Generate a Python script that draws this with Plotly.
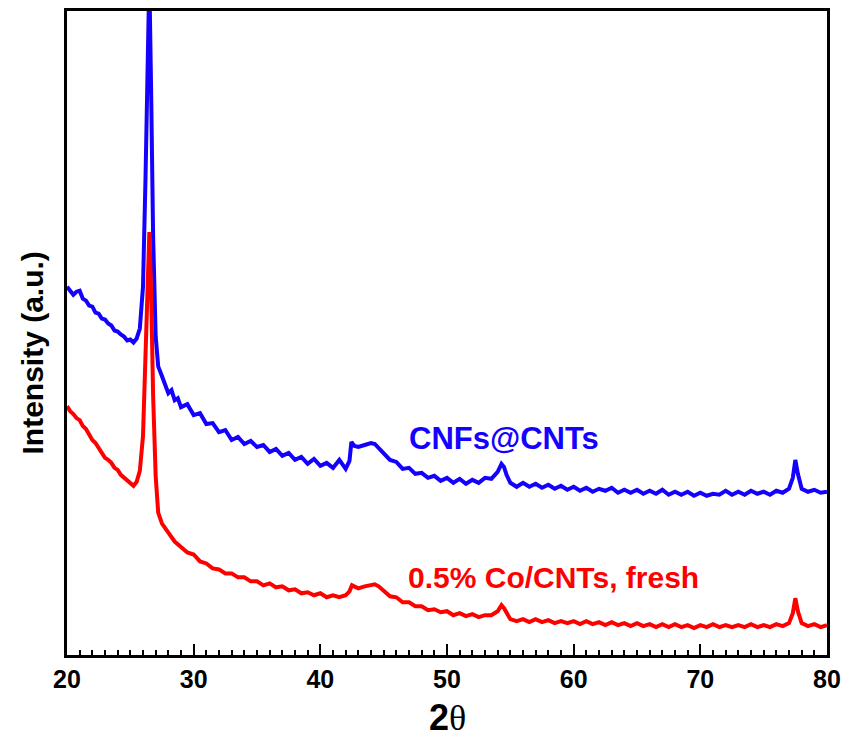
import plotly.graph_objects as go

# 2theta positions and intensities (a.u.)
theta_blue = [20.0, 20.25, 20.5, 20.75, 21.0, 21.25, 21.5, 21.75, 22.0, 22.25, 22.5, 22.75,
              23.0, 23.25, 23.5, 23.75, 24.0, 24.25, 24.5, 24.75, 25.0, 25.25, 25.5, 25.75,
              26.0, 26.2, 26.35, 26.5, 26.65, 26.8, 27.0, 27.2, 27.5, 27.75, 28.0, 28.25,
              28.5, 28.75, 29.0, 29.5, 30.0, 30.5, 31.0, 31.5, 32.0, 32.5, 33.0, 33.5, 34.0,
              34.5, 35.0, 35.5, 36.0, 36.5, 37.0, 37.5, 38.0, 38.5, 39.0, 39.5, 40.0, 40.5,
              41.0, 41.5, 42.0, 42.3, 42.45, 42.7, 43.0, 43.5, 44.0, 44.3, 44.6, 45.0, 45.5,
              46.0, 46.5, 47.0, 47.5, 48.0, 48.5, 49.0, 49.5, 50.0, 50.5, 51.0, 51.5, 52.0,
              52.5, 53.0, 53.5, 54.0, 54.3, 54.5, 54.7, 55.0, 55.5, 56.0, 56.5, 57.0, 57.5,
              58.0, 58.5, 59.0, 59.5, 60.0, 60.5, 61.0, 61.5, 62.0, 62.5, 63.0, 63.5, 64.0,
              64.5, 65.0, 65.5, 66.0, 66.5, 67.0, 67.5, 68.0, 68.5, 69.0, 69.5, 70.0, 70.5,
              71.0, 71.5, 72.0, 72.5, 73.0, 73.5, 74.0, 74.5, 75.0, 75.5, 76.0, 76.5, 77.0,
              77.3, 77.5, 77.7, 78.0, 78.5, 79.0, 79.5, 80.0]
int_blue = [370, 366, 362, 365, 366, 358, 356, 351, 350, 344, 343, 338,
            337, 333, 331, 326, 325, 322, 320, 316, 317, 314, 318, 328,
            370, 480, 600, 680, 560, 420, 320, 290, 280, 270, 263, 266,
            256, 258, 249, 252, 241, 243, 232, 233, 224, 226, 216, 219, 212,
            215, 209, 211, 204, 207, 200, 203, 196, 199, 192, 197, 190, 193,
            188, 196, 187, 195, 214, 210, 209, 211, 213, 212, 208, 203, 196,
            194, 187, 188, 182, 183, 178, 180, 175, 178, 173, 177, 172, 176,
            173, 178, 177, 184, 192, 189, 181, 173, 169, 173, 169, 172, 168,
            171, 167, 170, 166, 169, 165, 168, 164, 167, 165, 168, 163, 166,
            163, 166, 162, 165, 162, 166, 161, 164, 161, 164, 160, 163, 160,
            162, 161, 165, 161, 164, 161, 165, 162, 164, 161, 165, 163, 167,
            178, 196, 182, 167, 164, 166, 163, 164]

theta_red = [20.0, 20.25, 20.5, 20.75, 21.0, 21.25, 21.5, 21.75, 22.0, 22.25, 22.5, 22.75,
             23.0, 23.25, 23.5, 23.75, 24.0, 24.25, 24.5, 24.75, 25.0, 25.25, 25.5, 25.75,
             26.0, 26.2, 26.35, 26.5, 26.65, 26.8, 27.0, 27.2, 27.5, 27.75, 28.0, 28.5,
             29.0, 29.5, 30.0, 30.5, 31.0, 31.5, 32.0, 32.5, 33.0, 33.5, 34.0, 34.5, 35.0,
             35.5, 36.0, 36.5, 37.0, 37.5, 38.0, 38.5, 39.0, 39.5, 40.0, 40.5, 41.0, 41.5,
             42.0, 42.3, 42.5, 42.8, 43.0, 43.5, 44.0, 44.3, 44.6, 45.0, 45.5, 46.0, 46.5,
             47.0, 47.5, 48.0, 48.5, 49.0, 49.5, 50.0, 50.5, 51.0, 51.5, 52.0, 52.5, 53.0,
             53.5, 54.0, 54.3, 54.5, 54.7, 55.0, 55.5, 56.0, 56.5, 57.0, 57.5, 58.0, 58.5,
             59.0, 59.5, 60.0, 60.5, 61.0, 61.5, 62.0, 62.5, 63.0, 63.5, 64.0, 64.5, 65.0,
             65.5, 66.0, 66.5, 67.0, 67.5, 68.0, 68.5, 69.0, 69.5, 70.0, 70.5, 71.0, 71.5,
             72.0, 72.5, 73.0, 73.5, 74.0, 74.5, 75.0, 75.5, 76.0, 76.5, 77.0, 77.3, 77.5,
             77.7, 78.0, 78.5, 79.0, 79.5, 80.0]
int_red = [250, 245, 242, 238, 236, 230, 227, 222, 216, 213, 208, 204,
           198, 196, 193, 188, 186, 181, 178, 175, 173, 170, 174, 185,
           220, 300, 390, 425, 360, 260, 180, 143, 132, 128, 123, 114,
           109, 103, 101, 94, 92, 87, 86, 82, 82, 78, 78, 74, 74,
           70, 72, 68, 69, 65, 66, 62, 63, 60, 62, 58, 60, 58,
           60, 64, 70, 68, 67, 69, 70, 71, 69, 64, 59, 58, 53,
           53, 49, 49, 45, 46, 43, 44, 40, 42, 39, 41, 38, 40,
           40, 44, 50, 47, 42, 36, 34, 36, 33, 36, 33, 35, 32,
           34, 32, 34, 31, 34, 31, 33, 30, 33, 30, 32, 29, 32,
           29, 31, 28, 31, 28, 31, 28, 30, 27, 30, 28, 31, 28,
           30, 28, 30, 28, 31, 28, 30, 28, 31, 29, 32, 42, 57,
           44, 32, 29, 31, 28, 30]

label_blue = "CNFs@CNTs"
label_red = "0.5% Co/CNTs, fresh"
x_ticks = [20, 30, 40, 50, 60, 70, 80]

BLUE = "#1400ff"
RED = "#ff0000"
SANS = "Liberation Sans, Arial"

fig = go.Figure()
fig.add_trace(go.Scatter(x=theta_blue, y=int_blue, mode="lines",
                         line=dict(color=BLUE, width=4), showlegend=False))
fig.add_trace(go.Scatter(x=theta_red, y=int_red, mode="lines",
                         line=dict(color=RED, width=4), showlegend=False))

fig.update_layout(
    width=849, height=740,
    margin=dict(l=67, r=20, t=8, b=85),
    plot_bgcolor="white", paper_bgcolor="white",
    font=dict(family=SANS, color="black"),
)
fig.update_xaxes(
    range=[20, 80], tickvals=x_ticks, ticktext=[f"<b>{v}</b>" for v in x_ticks],
    ticks="inside", ticklen=11, tickwidth=2, tickcolor="black",
    minor=dict(dtick=1, ticks="inside", ticklen=5, tickwidth=1.5, tickcolor="black"),
    showline=True, linecolor="black", linewidth=2.5, mirror=True,
    showgrid=False, zeroline=False,
    tickfont=dict(family=SANS, size=25, color="black"),
)
fig.update_yaxes(
    range=[0, 647], showticklabels=False, ticks="",
    showline=True, linecolor="black", linewidth=2.5, mirror=True,
    showgrid=False, zeroline=False,
)

fig.add_annotation(text="<b>Intensity (a.u.)</b>", xref="paper", yref="paper",
                   x=(32 - 67) / 762, y=(655 - 352) / 647, xanchor="center", yanchor="middle",
                   textangle=-90, showarrow=False,
                   font=dict(family=SANS, size=30, color="black"))
fig.add_annotation(text="<b>2</b><span style='font-family:Liberation Serif'>θ</span>",
                   xref="paper", yref="paper",
                   x=(448 - 67) / 762, y=-(718 - 655) / 647, xanchor="center", yanchor="middle",
                   showarrow=False,
                   font=dict(family=SANS, size=36, color="black"))
fig.add_annotation(text=f"<b>{label_blue}</b>", x=46.85, y=655 - 437, xanchor="left",
                   yanchor="middle", showarrow=False,
                   font=dict(family=SANS, size=31, color=BLUE))
fig.add_annotation(text=f"<b>{label_red}</b>", x=46.75, y=655 - 577, xanchor="left",
                   yanchor="middle", showarrow=False,
                   font=dict(family=SANS, size=30, color=RED))

fig.write_html("out.html")
